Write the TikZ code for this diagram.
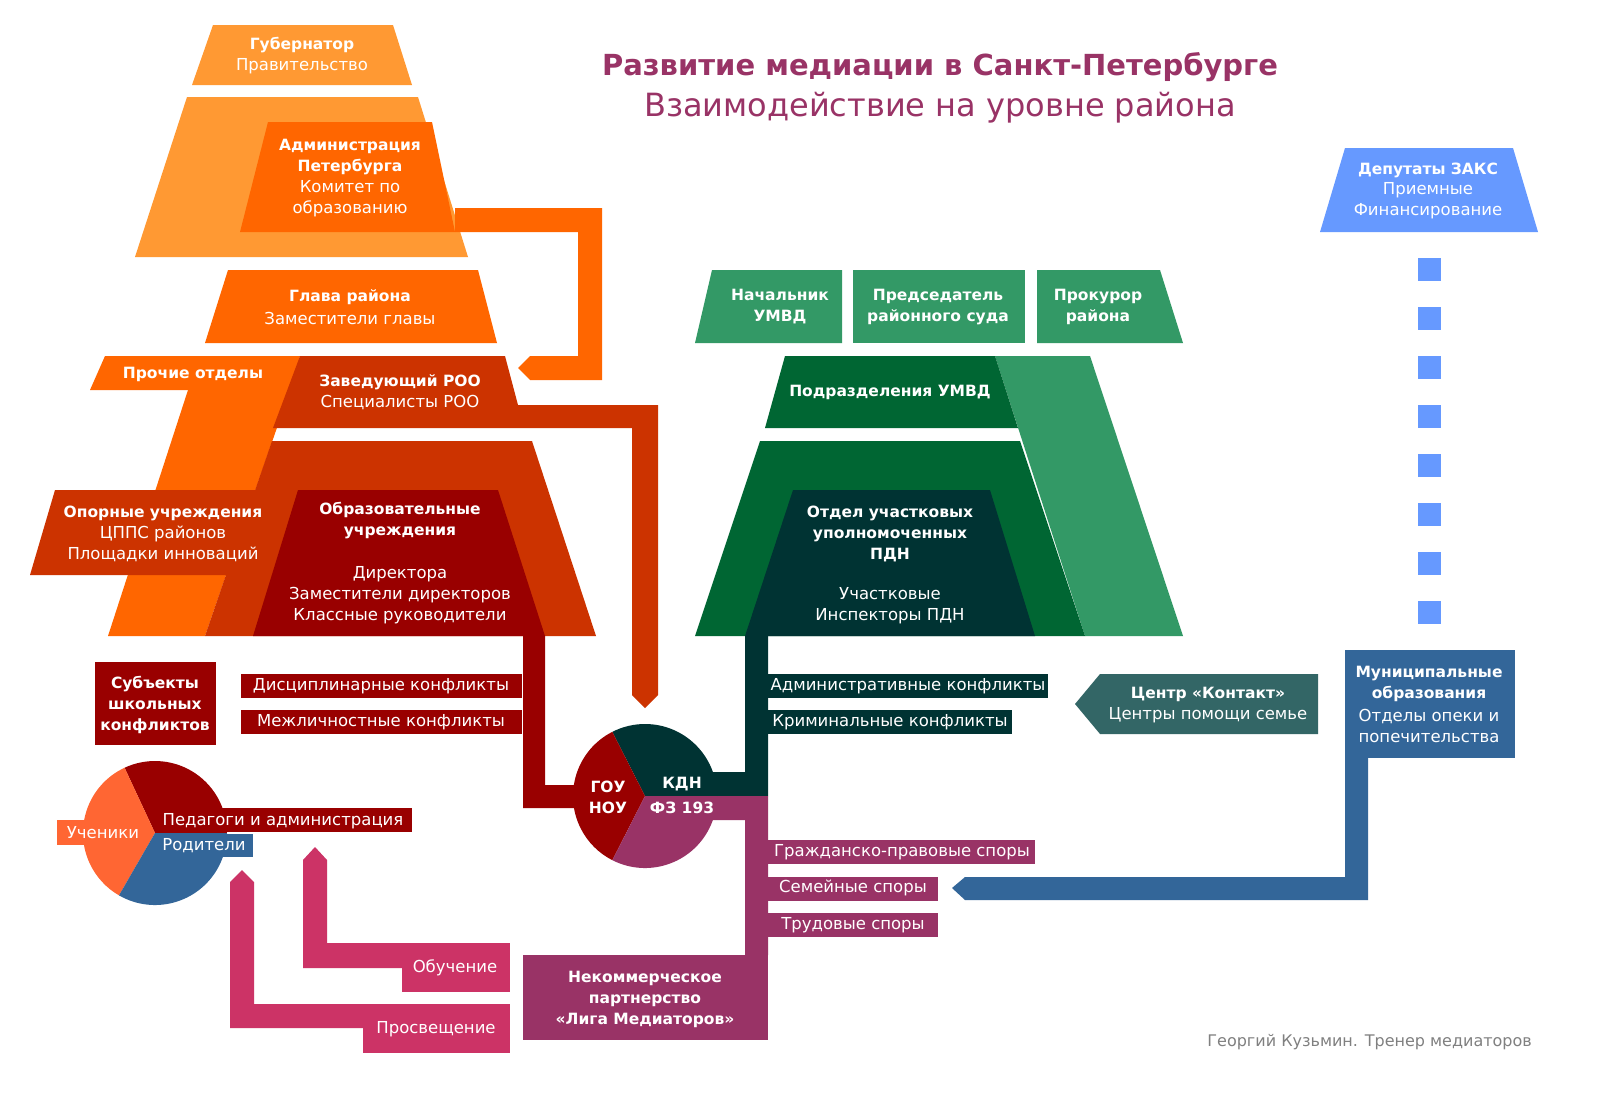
\documentclass[tikz,border=0pt]{standalone}
\usepackage{fontspec}
\setmainfont{DejaVu Sans}
\definecolor{lor}{HTML}{FF9933}
\definecolor{ora}{HTML}{FF6600}
\definecolor{ore}{HTML}{CC3300}
\definecolor{dre}{HTML}{990000}
\definecolor{gre}{HTML}{339966}
\definecolor{dgr}{HTML}{006633}
\definecolor{dte}{HTML}{003333}
\definecolor{pur}{HTML}{993366}
\definecolor{pnk}{HTML}{CC3366}
\definecolor{lbl}{HTML}{6699FF}
\definecolor{dbl}{HTML}{336699}
\definecolor{tea}{HTML}{336666}
\definecolor{pie}{HTML}{FF6633}
\tikzset{
 t/.style={text=white,font=\fontsize{16.5}{21}\selectfont,align=center,inner sep=0pt},
 b/.style={text=white,font=\bfseries\fontsize{15.5}{21}\selectfont,align=center,inner sep=0pt}
}
\begin{document}
\begin{tikzpicture}[x=1pt,y=-1pt]
\useasboundingbox (0,0) rectangle (1600,1100);
\fill[white] (0,0) rectangle (1600,1100);
% left column
\fill[lor] (213,25)--(393,25)--(412,85)--(192,85)--cycle;
\fill[lor] (187,97)--(418,97)--(468,257)--(135,257)--cycle;
\fill[ora] (268,122)--(432,122)--(455,232)--(240,232)--cycle;
\fill[ora] (455,208)--(602,208)--(602,380)--(530,380)--(518,368)--(530,356)--(578,356)--(578,232)--(455,232)--cycle;
\fill[ora] (228,270)--(478,270)--(497,343)--(205,343)--cycle;
\fill[ora] (105,356)--(300,356)--(293,390)--(90,390)--cycle;
\fill[ora] (188,390)--(290,390)--(205,636)--(108,636)--cycle;
\fill[ore] (300,356)--(505,356)--(518,405)--(658,405)--(658,695)--(645,708)--(632,695)--(632,428)--(273,428)--cycle;
\fill[ore] (272,441)--(532,441)--(596,636)--(205,636)--cycle;
\fill[ore] (55,490)--(290,490)--(290,575)--(30,575)--cycle;
\fill[dre] (298,490)--(498,490)--(545,636)--(253,636)--cycle;
\fill[dre] (523,636)--(545,636)--(545,785)--(600,785)--(600,808)--(523,808)--cycle;
\fill[dre] (95,662) rectangle (216,745);
\fill[dre] (241,674) rectangle (522,698);
\fill[dre] (241,710) rectangle (522,734);
% right column
\fill[gre] (712,270)--(842,270)--(842,343)--(695,343)--cycle;
\fill[gre] (853,270) rectangle (1025,343);
\fill[gre] (1037,270)--(1160,270)--(1183,343)--(1037,343)--cycle;
\fill[gre] (995,356)--(1090,356)--(1183,636)--(1085,636)--cycle;
\fill[dgr] (785,356)--(995,356)--(1018,428)--(765,428)--cycle;
\fill[dgr] (760,441)--(1020,441)--(1085,636)--(695,636)--cycle;
\fill[dte] (793,490)--(990,490)--(1035,636)--(745,636)--cycle;
\fill[dte] (745,636)--(768,636)--(768,796)--(690,796)--(690,772)--(745,772)--cycle;
\fill[pur] (680,796)--(768,796)--(768,955)--(745,955)--(745,820)--(680,820)--cycle;
\fill[dte] (768,674) rectangle (1048,698);
\fill[dte] (768,710) rectangle (1012,734);
\fill[pur] (768,840) rectangle (1035,864);
\fill[pur] (768,877) rectangle (938,901);
\fill[pur] (768,913) rectangle (938,937);
\fill[pur] (523,955) rectangle (768,1040);
\fill[tea] (1100,674)--(1318,674)--(1318,734)--(1100,734)--(1075,704)--cycle;
\fill[lbl] (1345,148)--(1513,148)--(1538,232)--(1320,232)--cycle;
\foreach \k in {0,...,7} \fill[lbl] (1418,258+49*\k) rectangle (1441,281+49*\k);
\fill[dbl] (1345,650) rectangle (1515,758);
\fill[dbl] (1345,758)--(1368,758)--(1368,900)--(965,900)--(952,888)--(965,877)--(1345,877)--cycle;
% pink
\fill[pnk] (303,860)--(315,847)--(327,860)--(327,943)--(402,943)--(402,968)--(303,968)--cycle;
\fill[pnk] (402,943) rectangle (510,992);
\fill[pnk] (230,882)--(242,870)--(254,882)--(254,1004)--(363,1004)--(363,1028)--(230,1028)--cycle;
\fill[pnk] (363,1004) rectangle (510,1053);
% pie left
\fill[dre] (155,833) -- ++(0:72) arc[start angle=0,end angle=-115,radius=72] -- cycle;
\fill[pie] (155,833) -- ++(-115:72) arc[start angle=-115,end angle=-240,radius=72] -- cycle;
\fill[dbl] (155,833) -- ++(-240:72) arc[start angle=-240,end angle=-360,radius=72] -- cycle;
\fill[pie] (57,820) rectangle (148,845);
\fill[dre] (155,808) rectangle (412,832);
\fill[dbl] (155,834) rectangle (253,857);
% center pie
\fill[dte] (645,796) -- ++(0:72) arc[start angle=0,end angle=-117,radius=72] -- cycle;
\fill[dre] (645,796) -- ++(-117:72) arc[start angle=-117,end angle=-243,radius=72] -- cycle;
\fill[pur] (645,796) -- ++(-243:72) arc[start angle=-243,end angle=-360,radius=72] -- cycle;
% texts
\node[b] (gub) at (302,45) {Губернатор};
\node[t] (gub2) at (302,66) {Правительство};
\node[b] (adm) at (350,157) {Администрация\\Петербурга};
\node[t] (adm2) at (350,199) {Комитет по\\образованию};
\node[b] (gl) at (350,297) {Глава района};
\node[t] (gl2) at (350,318) {Заместители главы};
\node[b] (pr) at (193,374) {Прочие отделы};
\node[b] (zav) at (400,382) {Заведующий РОО};
\node[t] (zav2) at (400,403) {Специалисты РОО};
\node[b] (op) at (163,513) {Опорные учреждения};
\node[t] (op2) at (163,544) {ЦППС районов\\Площадки инноваций};
\node[b] (ou) at (400,521) {Образовательные\\учреждения};
\node[t] (ou2) at (400,595) {Директора\\Заместители директоров\\Классные руководители};
\node[b] (sub) at (155,705) {Субъекты\\школьных\\конфликтов};
\node[t] (dk) at (381,686) {Дисциплинарные конфликты};
\node[t] (mk) at (381,722) {Межличностные конфликты};
\node[b] (gou) at (608,797) {ГОУ\\НОУ};
\node[b] (kdn) at (682,784) {КДН};
\node[b] (fz) at (682,808) {ФЗ 193};
\node[b] (nach) at (780,307) {Начальник\\УМВД};
\node[b] (pred) at (938,307) {Председатель\\районного суда};
\node[b] (prok) at (1098,307) {Прокурор\\района};
\node[b] (podr) at (890,392) {Подразделения УМВД};
\node[b] (otd) at (890,534) {Отдел участковых\\уполномоченных\\ПДН};
\node[t] (uch) at (890,606) {Участковые\\Инспекторы ПДН};
\node[t] (ak) at (908,686) {Административные конфликты};
\node[t] (kk) at (890,722) {Криминальные конфликты};
\node[b] (ck) at (1208,694) {Центр «Контакт»};
\node[t] (ck2) at (1208,715) {Центры помощи семье};
\node[b] (dep) at (1428,170) {Депутаты ЗАКС};
\node[t] (dep2) at (1428,201) {Приемные\\Финансирование};
\node[b] (mun) at (1429,684) {Муниципальные\\образования};
\node[t] (mun2) at (1429,726) {Отделы опеки и\\попечительства};
\node[t] (gps) at (902,852) {Гражданско-правовые споры};
\node[t] (ss) at (853,888) {Семейные споры};
\node[t] (ts) at (853,925) {Трудовые споры};
\node[b] (nek) at (645,999) {Некоммерческое\\партнерство\\«Лига Медиаторов»};
\node[t] (obu) at (455,968) {Обучение};
\node[t] (pros) at (436,1029) {Просвещение};
\node[t] (uchen) at (103,833) {Ученики};
\node[t] (ped) at (283,821) {Педагоги и администрация};
\node[t] (rod) at (204,846) {Родители};
\node[text=pur,font=\bfseries\fontsize{29}{34}\selectfont,inner sep=0pt] (title) at (940,67) {Развитие медиации в Санкт-Петербурге};
\node[text=pur,font=\fontsize{32}{36}\selectfont,inner sep=0pt] (sub2) at (940,108) {Взаимодействие на уровне района};
\node[text=gray,font=\fontsize{16}{20}\selectfont,anchor=east,inner sep=0pt] (auth) at (1532,1042) {Георгий Кузьмин. Тренер медиаторов};
\end{tikzpicture}
\end{document}
